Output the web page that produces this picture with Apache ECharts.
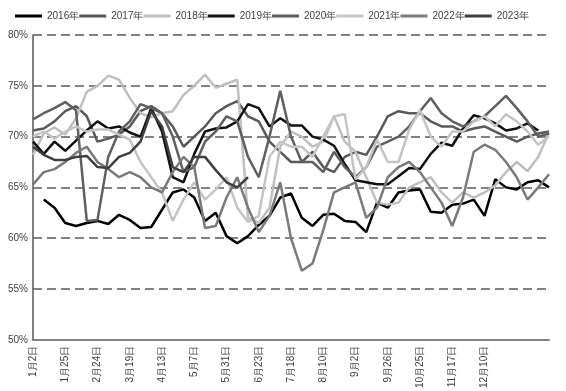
<!DOCTYPE html>
<html><head><meta charset="utf-8">
<script src="https://cdn.jsdelivr.net/npm/echarts@6/dist/echarts.min.js"></script>
<style>html,body{margin:0;padding:0;background:#fff}#c{width:566px;height:391px}</style>
</head><body><div id="c"></div>
<script>
const categories = ['1月2日','1月9日','1月16日','1月25日','2月5日','2月15日','2月24日','3月3日','3月11日','3月19日','3月27日','4月5日','4月13日','4月21日','4月29日','5月7日','5月15日','5月23日','5月31日','6月8日','6月15日','6月23日','7月2日','7月10日','7月18日','7月26日','8月3日','8月10日','8月17日','8月25日','9月2日','9月10日','9月18日','9月26日','10月10日','10月17日','10月25日','11月2日','11月10日','11月17日','11月24日','12月2日','12月10日','12月14日','12月18日','12月21日','12月24日','12月27日','12月31日'];
const lastLabelIndex = 42;
const yTicks = [50,55,60,65,70,75,80];
const s2016 = ['-',63.8,63.0,61.5,61.2,61.5,61.7,61.4,62.3,61.8,61.0,61.1,62.8,64.5,64.8,64.0,61.7,62.5,60.2,59.5,60.2,61.3,62.2,64.0,64.4,62.0,61.2,62.3,62.4,61.7,61.6,60.6,63.5,63.0,64.5,64.7,64.8,62.6,62.5,63.3,63.4,63.8,62.2,65.8,65.0,64.8,65.5,65.7,65.0];
const s2017 = [70.6,70.8,71.5,72.5,73.0,72.0,69.5,69.8,70.2,71.0,72.5,73.0,72.3,71.0,69.0,70.0,71.0,72.3,73.0,73.5,72.0,71.5,69.5,68.5,67.5,67.5,68.5,67.0,66.5,68.0,68.5,68.2,70.0,72.0,72.5,72.3,72.3,71.5,71.0,71.0,70.5,70.8,71.0,70.5,70.0,69.5,70.0,70.3,70.5];
const s2018 = [68.2,70.3,70.9,70.2,71.8,74.4,75.0,76.0,75.6,73.8,72.3,71.9,72.3,72.5,74.1,75.0,76.1,74.8,75.2,75.6,62.0,61.5,63.0,69.0,70.5,70.0,69.0,69.5,72.0,69.5,68.5,66.0,63.5,63.3,63.5,65.0,65.5,66.0,64.5,63.5,64.5,64.0,64.5,65.2,66.5,67.5,66.6,68.0,70.4];
const s2019 = [69.5,68.3,69.5,68.6,69.6,70.6,71.5,70.8,71.0,70.4,70.0,72.8,70.5,66.0,65.5,68.3,70.5,70.8,70.9,71.5,73.2,72.8,71.0,71.8,71.1,71.1,70.0,69.7,69.1,67.3,65.7,65.5,65.3,65.3,66.1,66.9,66.8,68.3,69.4,69.1,70.8,72.1,71.8,71.3,70.6,70.8,71.3,70.6,'-'];
const s2020 = [71.7,72.3,72.8,73.4,72.6,61.7,61.8,68.0,70.5,71.5,73.2,72.8,72.3,70.0,66.5,67.0,69.5,70.5,72.0,71.5,68.0,66.0,70.0,74.5,70.0,67.5,67.5,66.5,68.5,67.0,66.0,67.0,69.0,69.5,70.0,71.0,72.5,73.8,72.3,71.5,71.0,71.5,72.0,73.0,74.0,72.8,71.5,70.0,70.3];
const s2021 = [70.0,70.5,69.8,70.5,71.0,70.5,70.7,70.7,70.2,69.7,67.5,66.0,64.5,61.7,63.8,65.5,63.8,64.8,66.0,63.0,61.6,62.2,68.0,69.5,69.0,69.0,68.0,70.0,72.0,72.2,65.8,67.0,69.7,67.5,67.5,70.7,72.6,70.0,69.0,70.5,70.5,71.5,72.0,71.0,72.2,71.5,70.5,69.2,70.0];
const s2022 = [65.3,66.5,66.8,67.5,68.4,69.0,67.5,66.8,66.0,66.5,66.0,65.0,64.5,66.5,68.0,67.0,61.0,61.2,64.0,66.0,63.0,60.6,62.2,65.5,60.0,56.8,57.5,60.8,64.5,65.0,65.5,62.0,63.0,66.0,67.0,67.5,66.5,65.0,63.5,61.2,64.0,68.5,69.2,68.7,67.5,66.0,63.8,65.0,66.3];
const s2023 = [69.0,68.2,67.7,67.7,68.0,68.1,67.0,66.9,68.0,68.4,69.5,72.5,71.0,67.0,66.5,68.0,68.0,66.7,65.5,65.0,66.0];
const seriesNames = ['2016年','2017年','2018年','2019年','2020年','2021年','2022年','2023年'];
const seriesData = [s2016,s2017,s2018,s2019,s2020,s2021,s2022,s2023];
const colors = ['#000000','#595959','#bfbfbf','#111111','#5f5f5f','#c4c4c4','#7a7a7a','#3f3f3f'];

const chart = echarts.init(document.getElementById('c'));
chart.setOption({
  animation:false,
  color: colors,
  legend:{
    top:6, left:10, itemWidth:27, itemHeight:3, itemGap:0, icon:'rect',
    textStyle:{fontSize:10, color:'#404040', fontFamily:'Liberation Sans'},
    data: seriesNames
  },
  grid:{left:33, right:17, top:35, bottom:50},
  xAxis:{
    type:'category', data:categories, boundaryGap:false,
    axisLine:{lineStyle:{color:'#808080', width:2}},
    axisTick:{show:false},
    axisLabel:{interval:(i)=> i%3===0 && i<=lastLabelIndex, rotate:90, fontSize:10, color:'#404040', margin:6, fontFamily:'Liberation Sans'},
    splitLine:{show:false}
  },
  yAxis:{
    type:'value', min:yTicks[0], max:yTicks[yTicks.length-1], interval:5,
    axisLine:{show:true, lineStyle:{color:'#595959', width:1.5}},
    axisTick:{show:false},
    axisLabel:{formatter:'{value}%', fontSize:10, color:'#404040', margin:5, fontFamily:'Liberation Sans'},
    splitLine:{lineStyle:{color:'#595959', width:1.5, type:[9,5]}}
  },
  series: seriesNames.map((n,i)=>({
    name:n, type:'line', data:seriesData[i], symbol:'none',
    lineStyle:{width:2.5, color:colors[i]}, connectNulls:false
  }))
});
</script></body></html>
